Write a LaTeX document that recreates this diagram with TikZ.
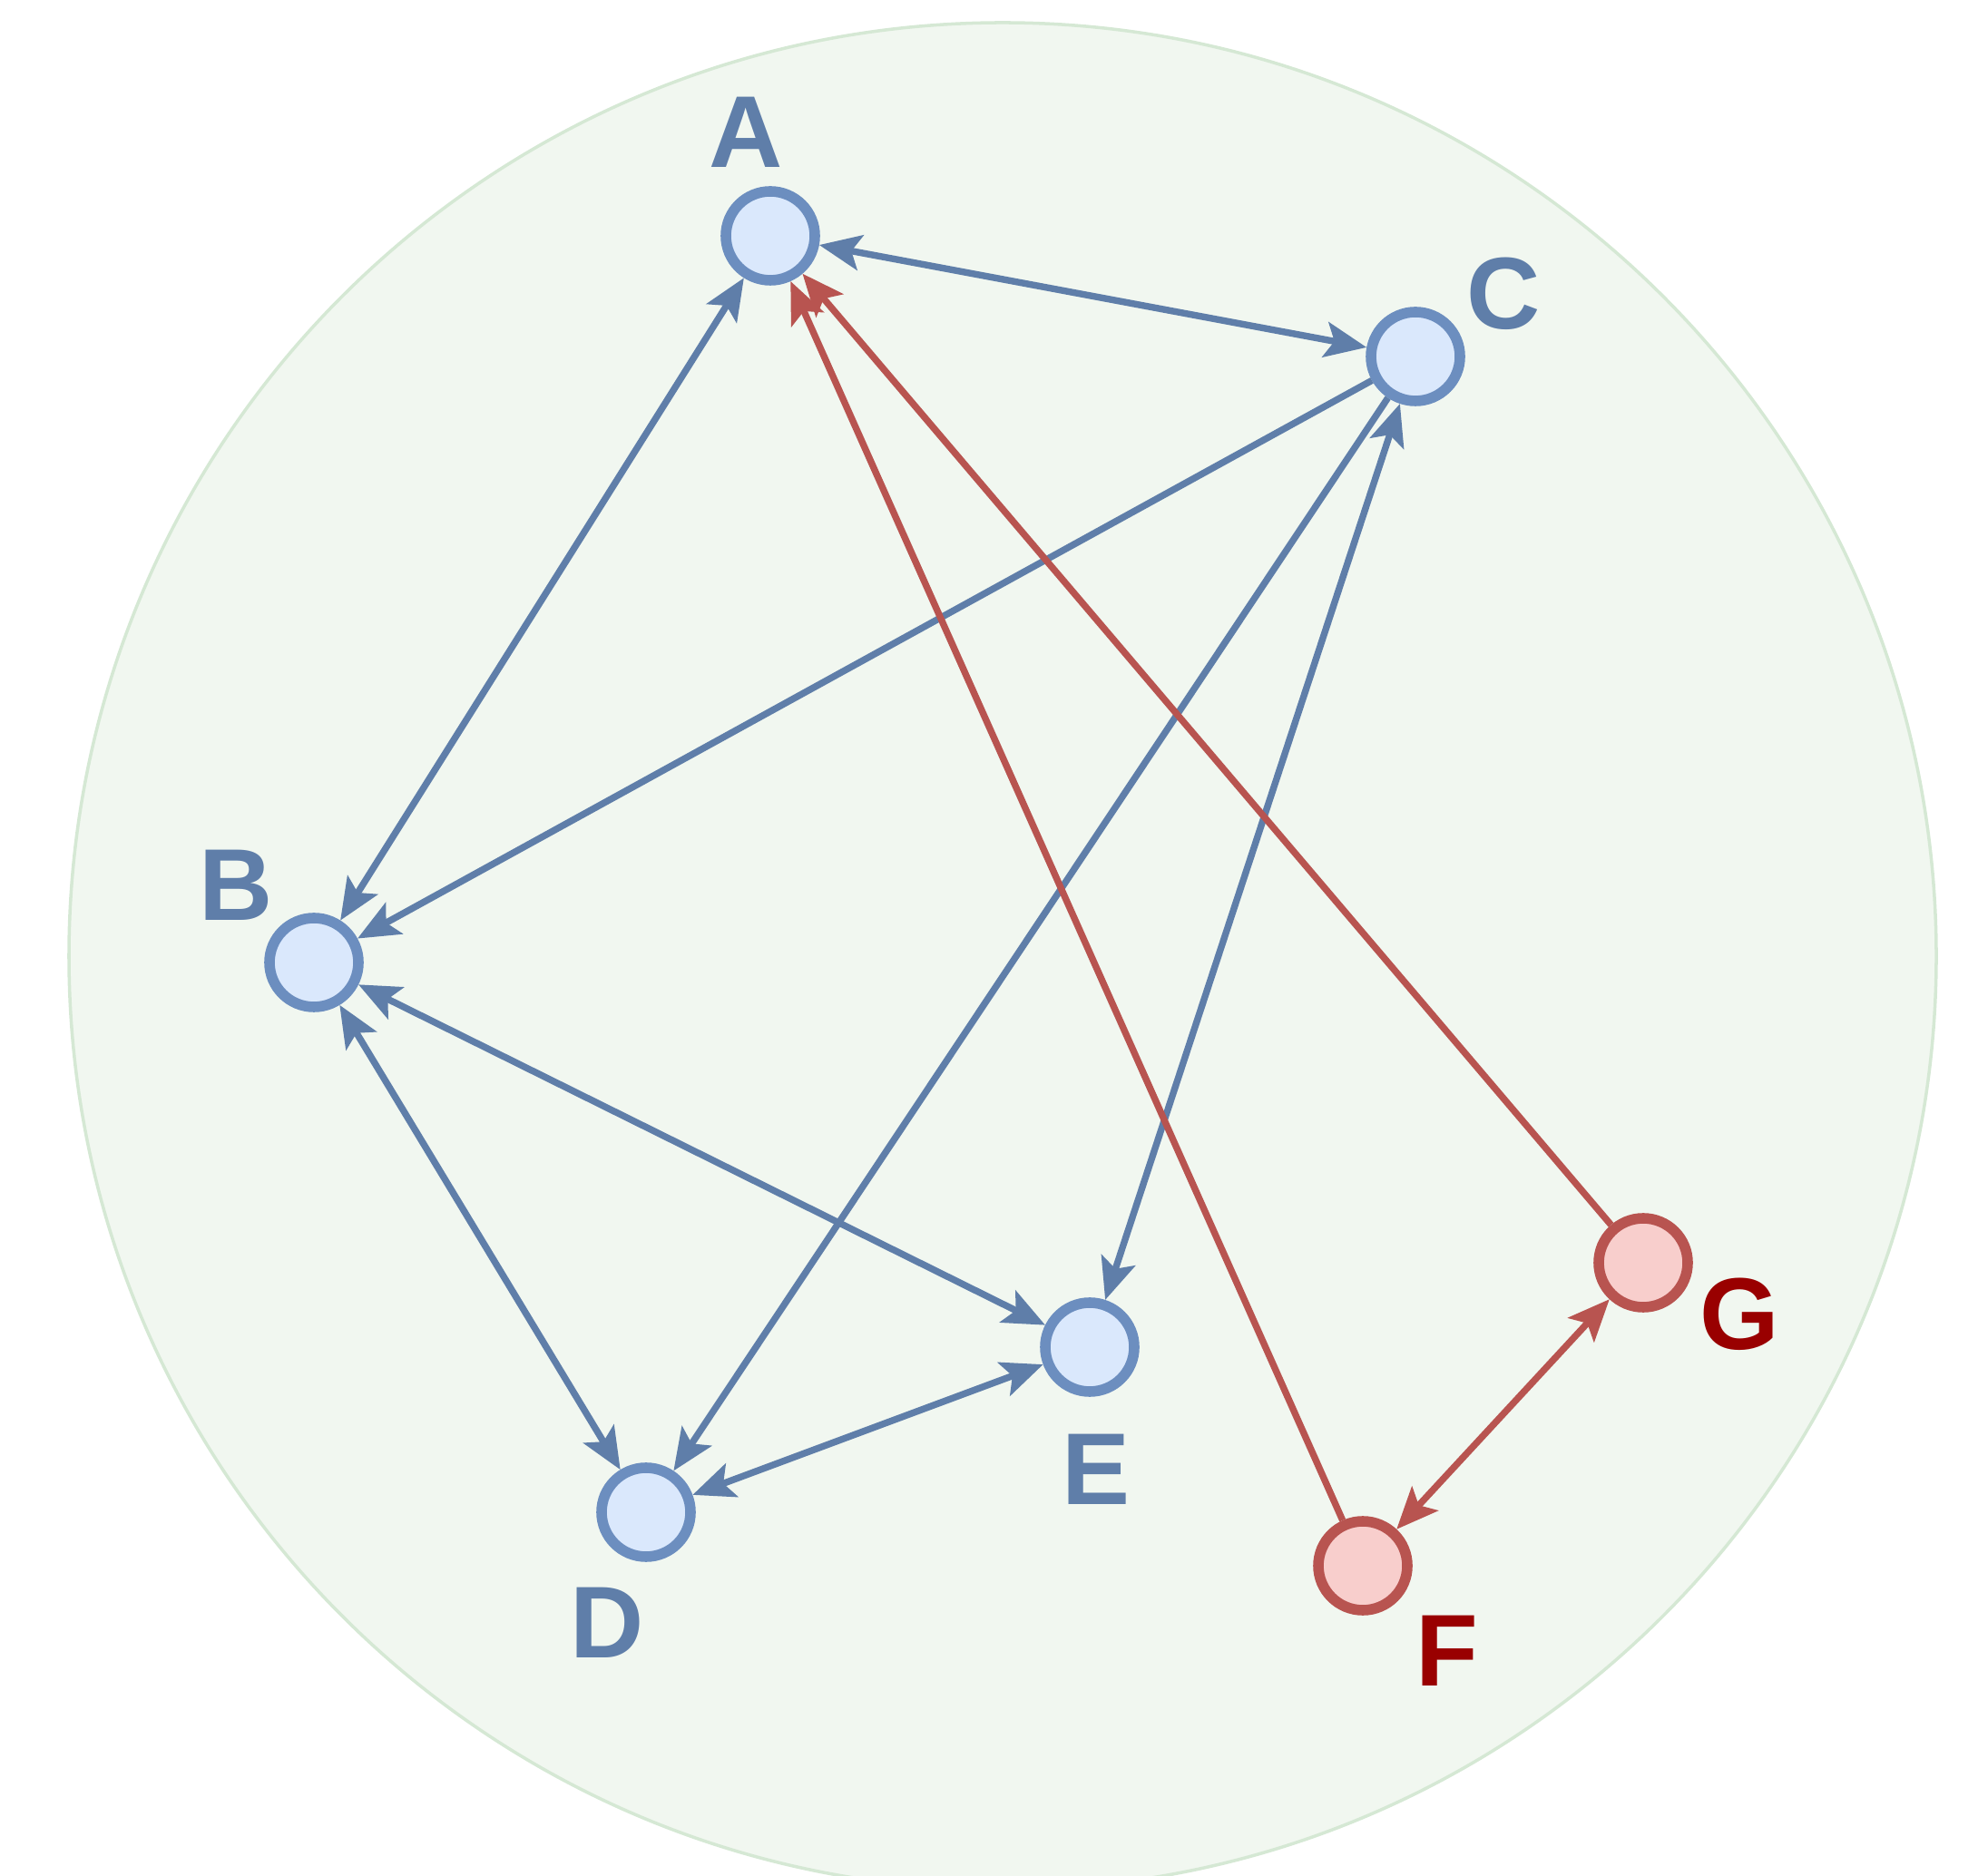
\documentclass[tikz,border=0pt]{standalone}
\usepackage{fontspec}
\setmainfont{Liberation Sans}
\usetikzlibrary{arrows.meta}
\definecolor{nodeblue}{HTML}{6C8EBF}
\definecolor{fillblue}{HTML}{DAE8FC}
\definecolor{edgeblue}{HTML}{5F7EA9}
\definecolor{nodered}{HTML}{B85450}
\definecolor{fillred}{HTML}{F8CECC}
\definecolor{lblred}{HTML}{990000}
\definecolor{bgfill}{HTML}{F1F7F0}
\definecolor{bgline}{HTML}{D5E8D4}
\begin{document}
\begin{tikzpicture}[
	>={Stealth[length=4.6mm,width=3.9mm,inset=1mm]},
	bnode/.style={circle, draw=nodeblue, fill=fillblue, line width=3.3pt, minimum size=9.8mm, inner sep=0pt},
	rnode/.style={circle, draw=nodered, fill=fillred, line width=3.3pt, minimum size=9.8mm, inner sep=0pt},
	blbl/.style={text=edgeblue, font=\fontsize{32}{32}\selectfont\bfseries},
	rlbl/.style={text=lblred, font=\fontsize{32}{32}\selectfont\bfseries},
	bedge/.style={draw=edgeblue, line width=2.1pt},
	redge/.style={draw=nodered, line width=2.1pt}]
	\useasboundingbox (0,0) rectangle (21.8,20.67);
	\clip (0,0) rectangle (21.8,20.67);
	% background disc
	\draw[fill=bgfill, draw=bgline, line width=1pt] (11.05,10.13) circle (10.29);
	% nodes
	\node[bnode] (a) at (8.49,18.07) {};
	\node[bnode] (c) at (15.60,16.74) {};
	\node[bnode] (b) at (3.46,10.06) {};
	\node[bnode] (e) at (12.01,5.82) {};
	\node[bnode] (d) at (7.12,4.00) {};
	\node[rnode] (g) at (18.11,6.75) {};
	\node[rnode] (f) at (15.02,3.41) {};
	% labels
	\node[blbl] (la) at (8.22,19.21) {A};
	\node[blbl] (lc) at (16.57,17.43) {C};
	\node[blbl] (lb) at (2.60,10.91) {B};
	\node[blbl] (le) at (12.08,4.47) {E};
	\node[blbl] (ld) at (6.69,2.78) {D};
	\node[rlbl] (lg) at (19.17,6.18) {G};
	\node[rlbl] (lf) at (15.95,2.47) {F};
	% edges
	\draw[bedge,<->] (a)--(c);
	\draw[bedge,<->] (a)--(b);
	\draw[bedge,->] (c)--(b);
	\draw[bedge,->] (c)--(d);
	\draw[bedge,<->] (e)--(c);
	\draw[bedge,<->] (b)--(e);
	\draw[bedge,<->] (b)--(d);
	\draw[bedge,<->] (d)--(e);
	\draw[redge,->] (f)--(a);
	\draw[redge,->] (g)--(a);
	\draw[redge,<->] (f)--(g);
\end{tikzpicture}
\end{document}
